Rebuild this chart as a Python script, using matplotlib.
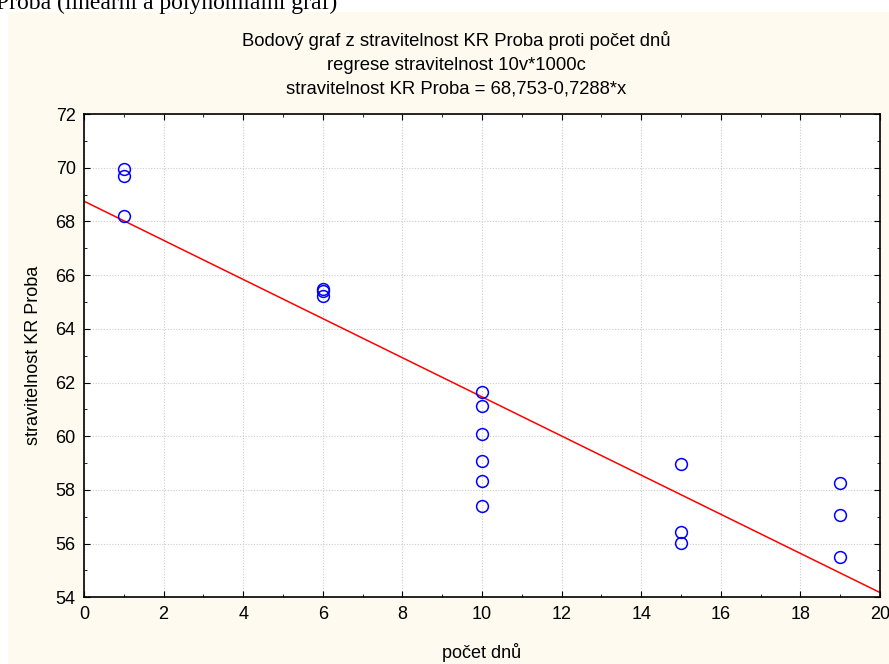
import numpy as np
import matplotlib.pyplot as plt
from matplotlib.patches import Rectangle
from matplotlib.ticker import MultipleLocator

# --- Data ---
days = [1, 1, 1, 6, 6, 6, 10, 10, 10, 10, 10, 10, 15, 15, 15, 19, 19, 19]
digest = [69.95, 69.70, 68.19, 65.47, 65.40, 65.23,
          61.64, 61.13, 60.07, 59.08, 58.32, 57.39,
          58.96, 56.42, 56.01, 58.27, 57.05, 55.49]
intercept = 68.753
slope = -0.7288

title_lines = ['Bodový graf z stravitelnost KR Proba proti počet dnů',
               'regrese stravitelnost 10v*1000c',
               'stravitelnost KR Proba = 68,753-0,7288*x']

plt.rcParams['font.family'] = ['Liberation Sans', 'DejaVu Sans']

fig = plt.figure(figsize=(8.89, 6.64), dpi=100, facecolor='white')

# cream panel behind the chart, white strip on top
fig.patches.append(Rectangle((8 / 889, 0), 1, 1 - 12 / 664, transform=fig.transFigure,
                             facecolor='#fefaf0', edgecolor='none', zorder=-2))
fig.text(-0.004, 1 - 9 / 664, 'Proba (lineární a polynomiální graf)', family='Liberation Serif',
         fontsize=17, ha='left', va='baseline', zorder=-1)

ax = fig.add_axes([84 / 889, 1 - 597.3 / 664, (880 - 84) / 889, (597.3 - 114) / 664])
ax.set_facecolor('white')

xs = np.array([0, 20])
ax.plot(xs, intercept + slope * xs, color='red', lw=1.1, zorder=2)
ax.plot(days, digest, 'o', mfc='none', mec='blue', ms=8.5, mew=1.1, zorder=3, clip_on=False)

ax.set_xlim(0, 20)
ax.set_ylim(54, 72)
ax.xaxis.set_major_locator(MultipleLocator(2))
ax.xaxis.set_minor_locator(MultipleLocator(1))
ax.yaxis.set_major_locator(MultipleLocator(2))
ax.yaxis.set_minor_locator(MultipleLocator(1))
ax.tick_params(which='both', direction='in', top=True, right=True, labelsize=13, color='black')
ax.tick_params(which='major', length=4, pad=6)
ax.tick_params(which='minor', length=2.5)
ax.grid(True, which='major', color='#cccccc', linestyle=(0, (1, 1.5)), lw=0.8)
for s in ax.spines.values():
    s.set_linewidth(1.2)
    s.set_color('black')

ax.set_xlabel('počet dnů', fontsize=13, labelpad=15)
ax.set_ylabel('stravitelnost KR Proba', fontsize=13, labelpad=10)

for i, line in enumerate(title_lines):
    fig.text(456 / 889, 1 - (41 + 24 * i) / 664, line, fontsize=13.3, ha='center', va='center')

fig.savefig('out.png', dpi=100, facecolor=fig.get_facecolor())
